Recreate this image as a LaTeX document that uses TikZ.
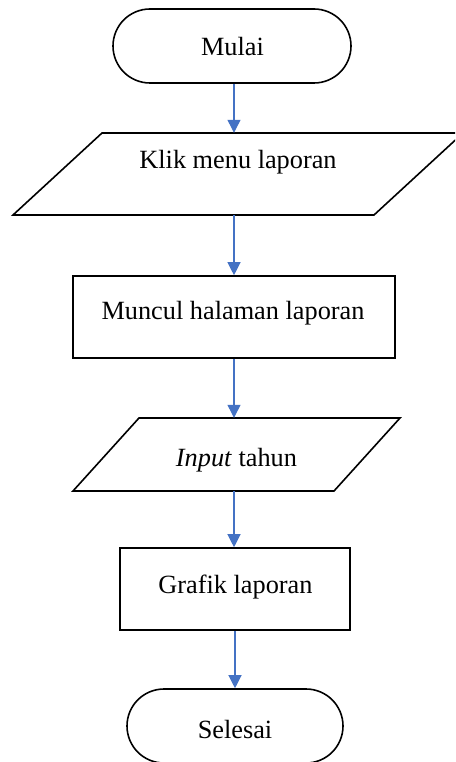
\documentclass[tikz,border=0pt]{standalone}
\usepackage{fontspec}
\setmainfont{Liberation Serif}
\usetikzlibrary{arrows.meta}
\definecolor{flowblue}{HTML}{4472C4}
\tikzset{
  outline/.style={draw=black, line width=1.6pt, line join=miter},
  terminal/.style={outline, rounded corners=37pt, minimum height=74pt, inner sep=0pt},
  process/.style={outline, minimum height=82pt, inner sep=0pt},
  iobox/.style={minimum height=82pt, minimum width=1pt, inner sep=0pt},
  label/.style={anchor=base, inner sep=0pt, font=\fontsize{26.3}{30}\selectfont},
  flow/.style={draw=flowblue, line width=1.2pt, -{Triangle[width=13pt,length=13pt]}}
}
\begin{document}
\begin{tikzpicture}[x=1pt,y=-1pt]
  \path[use as bounding box, clip] (0,0) rectangle (455,762);
  \fill[white] (0,0) rectangle (455,762);

  % start / end terminals and process boxes
  \node[terminal, minimum width=238pt] (mulai) at (232,46) {};
  \node[process, minimum width=322pt] (muncul) at (234,317) {};
  \node[process, minimum width=230pt] (grafik) at (235,589) {};
  \node[terminal, minimum width=216pt] (selesai) at (235,726) {};

  % input/output parallelograms
  \node[iobox, minimum height=82pt] (klik) at (234,174) {};
  \draw[outline] (102,133) -- (463,133) -- (374,215) -- (13,215) -- cycle;
  \node[iobox, minimum height=73pt] (input) at (234,454.5) {};
  \draw[outline] (139,418) -- (400,418) -- (334,491) -- (73,491) -- cycle;

  % texts
  \node[label] (tmulai) at (232.5,56) {Mulai};
  \node[label] (tklik) at (238,168) {Klik menu laporan};
  \node[label] (tmuncul) at (233,319) {Muncul halaman laporan};
  \node[label] (tinput) at (236.5,466) {\textit{Input} tahun};
  \node[label] (tgrafik) at (235.5,593) {Grafik laporan};
  \node[label] (tselesai) at (235,738) {Selesai};

  % flow connectors
  \draw[flow] (mulai.south -| klik.north) -- (klik.north);
  \draw[flow] (klik.south) -- (klik.south |- muncul.north);
  \draw[flow] (muncul.south -| input.north) -- (input.north);
  \draw[flow] (input.south) -- (input.south |- grafik.north);
  \draw[flow] (grafik.south) -- (selesai.north);
\end{tikzpicture}
\end{document}
